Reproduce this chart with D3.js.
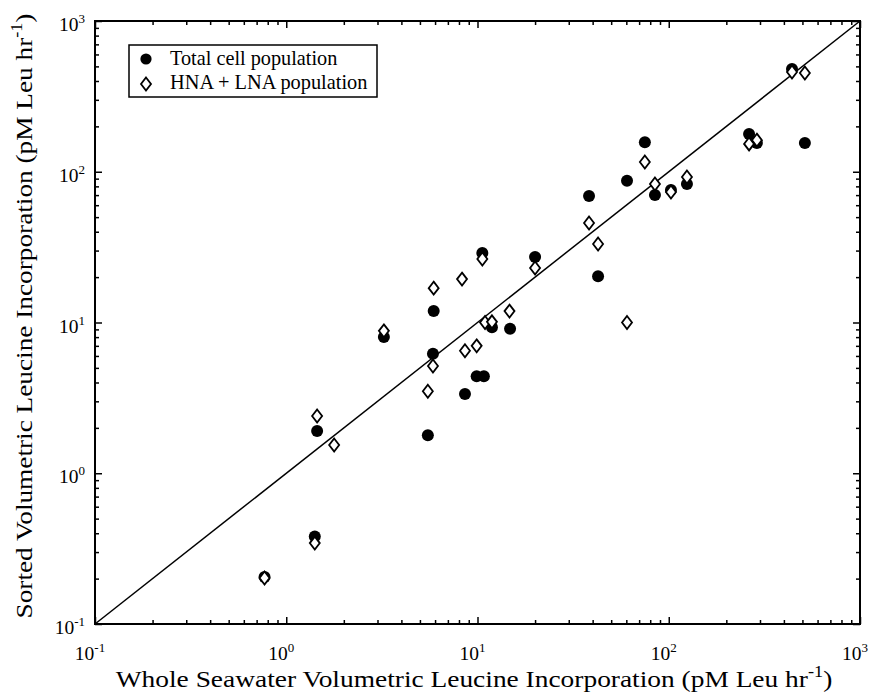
<!DOCTYPE html>
<html>
<head>
<meta charset="utf-8">
<script src="https://cdn.jsdelivr.net/npm/d3@7"></script>
<style>
  body { margin: 0; background: #fff; }
  svg { font-family: "Liberation Serif", "Times New Roman", serif; }
</style>
</head>
<body>
<svg id="chart" width="871" height="697"></svg>
<script>
// Whole seawater (x) vs sorted (y) leucine incorporation, pM Leu hr-1

// total cell population (filled circles)
const totalX = [0.77, 1.41, 1.45, 3.24, 5.5, 5.85, 5.9, 10.6, 9.9, 10.8, 8.6, 11.9, 14.8,
                20.0, 38.3, 42.7, 60.5, 75, 84.7, 102.7, 124.5, 263, 289, 515, 441];
const totalY = [0.205, 0.38, 1.91, 8.0, 1.79, 6.2, 11.9, 28.9, 4.4, 4.4, 3.35, 9.3, 9.1,
                27.2, 69, 20.3, 87, 157, 70, 75.7, 83, 178, 155, 155, 481];

// HNA + LNA population (open diamonds)
const hnaX = [0.77, 1.41, 1.45, 1.78, 3.24, 5.5, 5.85, 5.9, 8.3, 10.6, 8.6, 9.9, 10.95, 11.9,
              14.7, 20.0, 38.3, 42.7, 60.5, 75, 84.7, 102.7, 124.5, 263, 289, 441, 515];
const hnaY = [0.202, 0.344, 2.4, 1.54, 8.8, 3.5, 5.15, 16.9, 19.4, 26.4, 6.5, 7.0, 10.0, 10.1,
              11.9, 23.0, 45.7, 33.2, 10.0, 116, 83, 73.4, 92.3, 153, 162, 459, 452];

const domain = [0.1, 1000];
const majorTicks = [0.1, 1, 10, 100, 1000];
const tickExp = ["-1", "0", "1", "2", "3"];
const legendLabels = ["Total cell population", "HNA + LNA population"];

const svg = d3.select("#chart");
const plot = {left: 95, right: 860, top: 21, bottom: 624};

const x = d3.scaleLog().domain(domain).range([plot.left, plot.right]);
const y = d3.scaleLog().domain(domain).range([plot.bottom, plot.top]);

// minor ticks 2..9 in every decade
const minorTicks = [];
majorTicks.slice(0, -1).forEach(m => {
  for (let k = 2; k <= 9; k++) minorTicks.push(m * k);
});

function tickAxis(axisFn, scale, values, size) {
  return axisFn(scale).tickValues(values).tickSize(size).tickFormat("");
}

const axes = [
  [d3.axisBottom, x, `translate(0,${plot.bottom})`],
  [d3.axisTop, x, `translate(0,${plot.top})`],
  [d3.axisLeft, y, `translate(${plot.left},0)`],
  [d3.axisRight, y, `translate(${plot.right},0)`]
];
axes.forEach(([fn, sc, tr]) => {
  // negative size points ticks into the plot
  svg.append("g").attr("transform", tr)
    .call(tickAxis(fn, sc, majorTicks, -7))
    .call(g => g.select(".domain").remove());
  svg.append("g").attr("transform", tr)
    .call(tickAxis(fn, sc, minorTicks, -4))
    .call(g => g.select(".domain").remove());
});
svg.selectAll(".tick line").attr("stroke", "#000").attr("stroke-width", 1.5);

// frame
svg.append("rect")
  .attr("x", plot.left).attr("y", plot.top)
  .attr("width", plot.right - plot.left).attr("height", plot.bottom - plot.top)
  .attr("fill", "none").attr("stroke", "#000").attr("stroke-width", 2);

// tick labels with superscripts
function powerLabel(g, exp) {
  g.append("tspan").text("10");
  g.append("tspan").attr("dy", -8).attr("font-size", 13).text(exp);
}
majorTicks.forEach((v, i) => {
  const tx = svg.append("text")
    .attr("x", x(v) - 5).attr("y", 660)
    .attr("text-anchor", "middle").attr("font-size", 19.5);
  powerLabel(tx, tickExp[i]);
  const ty = svg.append("text")
    .attr("x", plot.left - 10).attr("y", y(v) + 10)
    .attr("text-anchor", "end").attr("font-size", 19.5);
  powerLabel(ty, tickExp[i]);
});

// 1:1 line
svg.append("line")
  .attr("x1", x(domain[0])).attr("y1", y(domain[0]))
  .attr("x2", x(domain[1])).attr("y2", y(domain[1]))
  .attr("stroke", "#000").attr("stroke-width", 1.5);

const diamond = (cx, cy) => `M${cx},${cy - 6.5}L${cx + 5},${cy}L${cx},${cy + 6.5}L${cx - 5},${cy}Z`;

// points
svg.append("g").selectAll("circle")
  .data(totalX.map((d, i) => [d, totalY[i]]))
  .join("circle")
  .attr("cx", d => x(d[0])).attr("cy", d => y(d[1]))
  .attr("r", 6).attr("fill", "#000");

svg.append("g").selectAll("path")
  .data(hnaX.map((d, i) => [d, hnaY[i]]))
  .join("path")
  .attr("d", d => diamond(x(d[0]), y(d[1])))
  .attr("fill", "#fff").attr("stroke", "#000").attr("stroke-width", 1.8);

// squeeze/stretch a text horizontally so it spans the wanted width
function fitWidth(sel, cx, cy, width, rot) {
  const w = sel.node().getBBox().width;
  sel.attr("transform", `translate(${cx},${cy})${rot ? " rotate(-90)" : ""} scale(${width / w},1)`);
}

// legend
const lg = svg.append("g");
lg.append("rect").attr("x", 129).attr("y", 45).attr("width", 248).attr("height", 52)
  .attr("fill", "#fff").attr("stroke", "#000").attr("stroke-width", 1.5);
lg.append("circle").attr("cx", 146).attr("cy", 59).attr("r", 5.6).attr("fill", "#000");
lg.append("path").attr("d", diamond(146, 84))
  .attr("fill", "#fff").attr("stroke", "#000").attr("stroke-width", 1.8);
const legendWidths = [168, 198];
legendLabels.forEach((t, i) => {
  const txt = lg.append("text").attr("font-size", 21).text(t);
  fitWidth(txt, 170, 65 + i * 24, legendWidths[i], false);
});

// axis titles
const xt = svg.append("text").attr("text-anchor", "middle").attr("font-size", 24);
xt.append("tspan").text("Whole Seawater Volumetric Leucine Incorporation (pM Leu hr");
xt.append("tspan").attr("dy", -10).attr("font-size", 16).text("-1");
xt.append("tspan").attr("dy", 10).text(")");
fitWidth(xt, 474, 687, 717, false);

const yt = svg.append("text").attr("text-anchor", "middle").attr("font-size", 24);
yt.append("tspan").text("Sorted Volumetric Leucine Incorporation (pM Leu hr");
yt.append("tspan").attr("dy", -10).attr("font-size", 16).text("-1");
yt.append("tspan").attr("dy", 10).text(")");
fitWidth(yt, 32, 316, 605, true);
</script>
</body>
</html>
